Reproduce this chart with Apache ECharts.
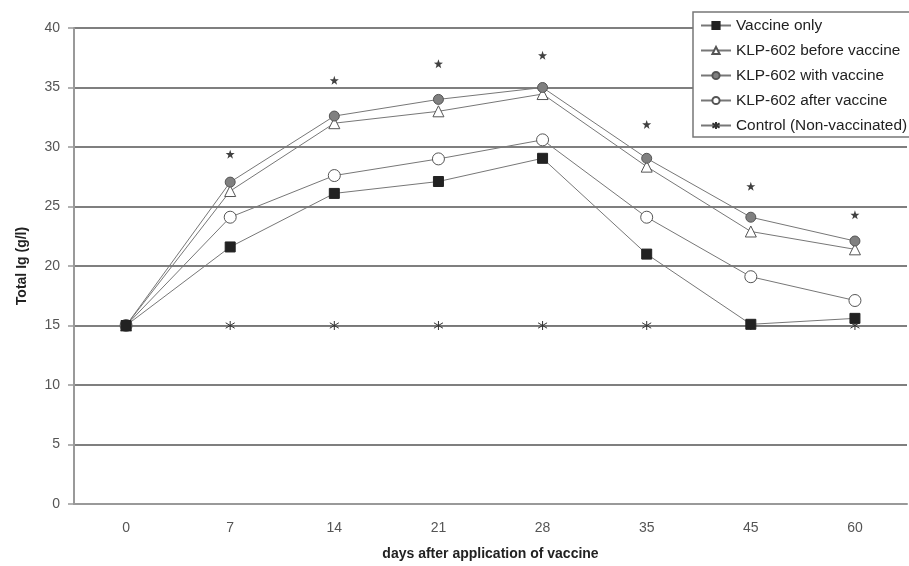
<!DOCTYPE html>
<html>
<head>
<meta charset="utf-8">
<script src="https://cdn.jsdelivr.net/npm/echarts@6/dist/echarts.min.js"></script>
<style>html,body{margin:0;padding:0;background:#fff}#c{width:909px;height:566px}</style>
</head>
<body>
<div id="c"></div>
<script>
const days = ['0', '7', '14', '21', '28', '35', '45', '60'];
const yTicks = [0, 5, 10, 15, 20, 25, 30, 35, 40];
const vaccineOnly = [15, 21.6, 26.1, 27.1, 29.05, 21.0, 15.1, 15.6];
const klpBefore = [15, 26.3, 32.0, 33.0, 34.45, 28.35, 22.9, 21.4];
const klpWith = [15, 27.05, 32.6, 34.0, 35.0, 29.05, 24.1, 22.1];
const klpAfter = [15, 24.1, 27.6, 29.0, 30.6, 24.1, 19.1, 17.1];
const control = [15, 15, 15, 15, 15, 15, 15, 15];
const significance = [null, 29.4, 35.6, 37.0, 37.7, 31.9, 26.7, 24.3];
const seriesNames = ['Vaccine only', 'KLP-602 before vaccine', 'KLP-602 with vaccine', 'KLP-602 after vaccine', 'Control (Non-vaccinated)'];

const asterisk = 'path://M0,-1L0,1M-0.9,-0.6L0.9,0.6M-0.9,0.6L0.9,-0.6';
const star = 'path://M0,-1L0.235,-0.324L0.951,-0.309L0.38,0.124L0.588,0.809L0,0.4L-0.588,0.809L-0.38,0.124L-0.951,-0.309L-0.235,-0.324Z';
const lineStyle = { color: '#777', width: 1 };

function mk(name, data, symbol, size, fill, border) {
  return {
    name: name, type: 'line', data: data, symbol: symbol, symbolSize: size,
    lineStyle: lineStyle, color: '#777',
    itemStyle: { color: fill, borderColor: border, borderWidth: 1 },
    emphasis: { disabled: true }, z: 3
  };
}

const chart = echarts.init(document.getElementById('c'));
chart.setOption({
  animation: false,
  backgroundColor: '#fff',
  grid: { left: 74, right: 2, top: 28, bottom: 59 },
  legend: {
    data: seriesNames,
    orient: 'vertical',
    left: 693, top: 12,
    padding: [6, 30, 4, 7],
    itemWidth: 30, itemHeight: 9, itemGap: 10,
    backgroundColor: '#fff',
    borderColor: '#777', borderWidth: 1.5, borderRadius: 0,
    textStyle: { fontFamily: 'Liberation Sans, Arial', fontSize: 15.4, color: '#222' }
  },
  xAxis: {
    type: 'category', data: days, boundaryGap: true,
    name: 'days after application of vaccine', nameLocation: 'middle', nameGap: 43,
    nameTextStyle: { fontFamily: 'Liberation Sans, Arial', fontSize: 14, fontWeight: 'bold', color: '#222' },
    axisLine: { lineStyle: { color: '#999', width: 2 } },
    axisTick: { show: false },
    axisLabel: { fontFamily: 'Liberation Sans, Arial', fontSize: 14, color: '#555', margin: 17 },
    splitLine: { show: false }
  },
  yAxis: {
    type: 'value', min: yTicks[0], max: yTicks[yTicks.length - 1], interval: yTicks[1] - yTicks[0],
    name: 'Total Ig (g/l)', nameLocation: 'middle', nameGap: 45,
    nameTextStyle: { fontFamily: 'Liberation Sans, Arial', fontSize: 14, fontWeight: 'bold', color: '#222' },
    axisLine: { show: true, lineStyle: { color: '#999', width: 2 } },
    axisTick: { show: true, length: 6, lineStyle: { color: '#999', width: 1.5 } },
    axisLabel: { fontFamily: 'Liberation Sans, Arial', fontSize: 14, color: '#555', margin: 14 },
    splitLine: { show: true, lineStyle: { color: '#555', width: 1.5 } }
  },
  series: [
    mk(seriesNames[4], control, asterisk, 9, 'none', '#333'),
    mk(seriesNames[3], klpAfter, 'circle', 12, '#fff', '#555'),
    mk(seriesNames[1], klpBefore, 'triangle', 11, '#fff', '#555'),
    mk(seriesNames[2], klpWith, 'circle', 10, '#808080', '#555'),
    mk(seriesNames[0], vaccineOnly, 'rect', 10, '#222', '#222'),
    {
      name: 'significance', type: 'scatter', data: significance,
      symbol: star, symbolSize: 9,
      itemStyle: { color: '#111' }, z: 4, emphasis: { disabled: true }
    }
  ]
});
</script>
</body>
</html>
